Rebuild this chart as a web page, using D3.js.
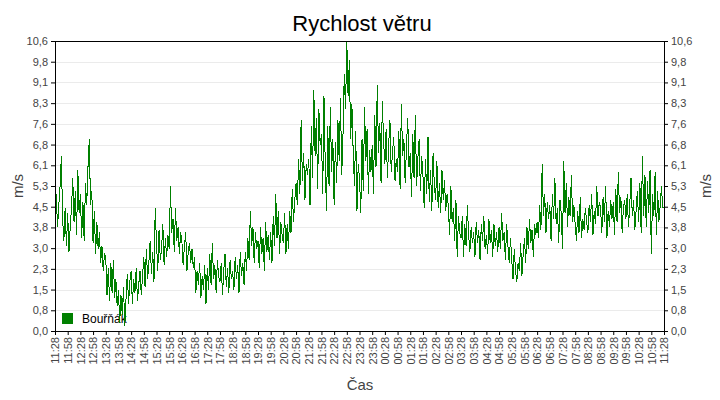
<!DOCTYPE html>
<html>
<head>
<meta charset="utf-8">
<script src="https://cdn.jsdelivr.net/npm/d3@7"></script>
<style>
  html, body { margin: 0; padding: 0; background: #fff; }
  svg { display: block; }
  text { font-family: "Liberation Sans", Arial, sans-serif; }
</style>
</head>
<body>
<svg id="chart" width="720" height="400"></svg>
<script>
// ---- data ----
const title = "Rychlost větru";
const seriesName = "Bouřňák";
const yAxisTitle = "m/s";
const xAxisTitle = "Čas";
const startTime = [11, 28];          // first sample, HH:MM
const sampleMinutes = 3;             // spacing of samples
const windSpeed = [
  4.2,5.0,3.8,4.6,5.3,6.4,4.1,3.3,4.5,3.1,
  4.3,2.9,3.8,4.5,5.6,4.0,5.1,3.5,5.9,4.3,
  5.0,3.4,4.7,3.3,5.4,4.6,6.0,7.0,4.6,5.1,
  3.2,4.4,2.8,4.0,3.0,3.6,2.5,3.1,2.2,2.8,
  2.7,1.3,2.3,1.1,2.5,1.4,2.6,1.2,1.9,0.9,
  1.5,0.3,1.3,0.6,1.6,0.2,1.2,2.1,1.0,1.8,
  2.2,1.0,1.9,1.4,2.3,1.1,1.7,2.2,1.3,2.0,
  2.7,1.6,3.0,1.9,2.5,3.3,2.1,2.9,1.8,4.5,
  3.2,2.2,3.7,2.6,3.0,3.9,2.4,3.4,2.7,3.5,
  3.0,5.3,3.6,4.1,2.9,4.5,3.3,3.8,2.8,3.6,
  3.3,2.4,3.1,3.6,2.2,2.9,3.2,2.5,3.0,2.3,
  2.7,1.4,2.2,1.7,2.5,1.2,2.0,1.5,2.4,1.0,
  2.3,1.5,2.8,1.7,3.2,1.9,2.4,1.4,2.6,2.0,
  1.8,2.5,1.3,2.2,2.8,1.6,2.3,1.4,2.6,1.9,
  2.2,1.5,2.7,1.9,2.4,1.4,2.9,2.0,2.5,1.7,
  2.9,2.2,3.4,2.6,4.4,3.1,3.8,2.5,3.6,3.0,
  3.3,2.3,3.8,2.8,3.4,2.2,4.0,2.9,3.5,2.6,
  3.6,2.5,4.2,3.1,5.0,3.4,4.4,2.8,4.0,3.5,
  3.2,4.3,2.8,3.9,3.0,4.4,3.6,5.2,4.0,4.8,
  5.4,4.6,6.3,5.0,7.7,5.5,6.5,4.8,6.1,5.7,
  6.3,4.6,7.5,5.6,8.8,6.4,7.8,5.2,8.1,6.8,
  7.2,5.0,8.6,6.1,4.4,7.5,5.3,8.2,5.8,7.0,
  4.6,6.9,5.4,7.7,6.2,8.5,5.7,7.2,9.4,8.1,
  10.6,8.6,9.9,7.0,8.3,6.6,5.3,7.3,4.4,6.1,
  5.6,4.3,7.0,5.1,8.2,6.2,7.4,5.0,6.6,5.8,
  6.8,5.0,7.9,6.0,9.0,6.5,7.6,5.4,8.4,6.9,
  6.1,7.4,5.6,6.8,7.7,5.8,6.5,7.1,5.5,6.3,
  5.8,7.3,5.2,8.3,6.4,7.0,5.4,6.7,7.8,6.0,
  6.5,4.9,7.2,5.6,7.9,5.3,6.3,7.0,5.1,6.4,
  5.7,4.5,6.3,5.0,7.1,4.7,5.9,4.4,6.5,5.3,
  4.8,6.2,4.5,5.4,4.3,5.9,4.8,5.5,4.4,5.0,
  4.6,3.5,5.3,4.0,4.5,3.3,4.8,2.7,4.2,3.6,
  3.4,4.2,2.7,3.9,3.1,4.6,3.5,2.9,3.8,3.2,
  3.6,2.7,4.0,3.2,3.7,2.6,3.9,3.3,4.2,3.0,
  3.5,2.8,4.1,3.2,3.7,2.7,3.9,3.1,3.6,2.9,
  3.8,3.0,4.3,3.3,3.6,2.6,3.9,3.1,2.5,3.4,
  2.6,1.9,3.0,2.2,1.8,2.5,2.2,3.2,2.0,2.8,
  3.4,2.5,3.8,3.0,4.1,3.2,3.7,2.7,3.9,3.5,
  4.0,3.4,4.6,3.7,6.1,4.2,5.0,3.6,4.7,4.1,
  4.6,3.3,5.0,4.1,5.6,3.9,4.5,3.2,4.8,4.3,
  3.0,6.2,4.3,5.4,3.8,4.9,4.2,5.7,4.0,4.6,
  3.9,3.3,4.4,3.6,4.9,3.4,4.1,3.7,4.5,4.0,
  3.6,4.6,4.0,5.0,3.5,4.4,3.9,5.3,4.2,4.7,
  4.5,3.6,4.9,4.0,5.3,3.4,4.4,3.8,4.8,4.1,
  4.7,3.5,5.2,4.0,5.8,4.3,4.9,3.6,4.5,4.8,
  4.1,5.0,3.8,4.6,5.6,4.2,4.8,3.7,4.4,5.1,
  4.0,5.4,3.6,6.4,4.2,5.7,3.8,5.5,4.3,5.9,
  2.8,5.0,4.2,5.8,3.5,5.1,4.0,4.6,5.3,4.5,
  4.5
];
const yTickLabels = ["0,0","0,8","1,5","2,3","3,0","3,8","4,5","5,3","6,1","6,8","7,6","8,3","9,1","9,8","10,6"];
const yMax = 10.6;
const xTickLabels = ["11:28","11:58","12:28","12:58","13:28","13:58","14:28","14:58","15:28","15:58",
  "16:28","16:58","17:28","17:58","18:28","18:58","19:28","19:58","20:28","20:58","21:28","21:58",
  "22:28","22:58","23:28","23:58","00:28","00:58","01:28","01:58","02:28","02:58","03:28","03:58",
  "04:28","04:58","05:28","05:58","06:28","06:58","07:28","07:58","08:28","08:58","09:28","09:58",
  "10:28","10:58","11:28"];

// ---- layout ----
const L = 55, R = 664, T = 41, B = 331;
const svg = d3.select("#chart");

const t0 = new Date(2020, 0, 1, startTime[0], startTime[1]);
const t1 = d3.timeMinute.offset(t0, 24 * 60);
const x = d3.scaleTime().domain([t0, t1]).range([L, R]);
const y = d3.scaleLinear().domain([0, yMax]).range([B, T]);

const data = windSpeed.map((v, i) => ({ t: d3.timeMinute.offset(t0, i * sampleMinutes), v }));
const yTickVals = yTickLabels.map((s, i) => i * yMax / (yTickLabels.length - 1));
const xTickVals = xTickLabels.map((s, i) => d3.timeMinute.offset(t0, i * 30));

// gridlines
svg.append("g").selectAll("line").data(yTickVals.slice(1, -1)).join("line")
  .attr("x1", L).attr("x2", R)
  .attr("y1", d => Math.round(y(d)) + 0.5).attr("y2", d => Math.round(y(d)) + 0.5)
  .attr("stroke", "#ebebeb").attr("stroke-width", 1);

// legend (drawn under the line)
svg.append("rect").attr("x", 62).attr("y", 313).attr("width", 11).attr("height", 11).attr("fill", "#008000");
svg.append("text").attr("x", 82).attr("y", 323).attr("font-size", 12).attr("fill", "#000").text(seriesName);

// series line
svg.append("path").datum(data)
  .attr("fill", "none").attr("stroke", "#008000").attr("stroke-width", 1)
  .attr("shape-rendering", "crispEdges")
  .attr("d", d3.line().x(d => x(d.t)).y(d => y(d.v)));

// axes
const leftAxis = d3.axisLeft(y).tickValues(yTickVals).tickFormat((d) => yTickLabels[yTickVals.indexOf(d)]).tickSize(4).tickPadding(3);
const rightAxis = d3.axisRight(y).tickValues(yTickVals).tickFormat((d) => yTickLabels[yTickVals.indexOf(d)]).tickSize(4).tickPadding(3);
const bottomAxis = d3.axisBottom(x).tickValues(xTickVals).tickFormat((d) => xTickLabels[xTickVals.findIndex(v => +v === +d)]).tickSize(4).tickPadding(3);

function styleAxis(g) {
  g.selectAll(".domain").attr("stroke", "#000");
  g.selectAll(".tick line").attr("stroke", "#000");
  g.selectAll(".tick text").attr("fill", "#444").attr("font-size", 11)
    .attr("font-family", "'Liberation Sans', Arial, sans-serif");
}
svg.append("g").attr("transform", `translate(${L},0)`).call(leftAxis).call(styleAxis)
  .call(g => g.select(".domain").attr("d", `M0.5,${T}V${B}`));
svg.append("g").attr("transform", `translate(${R},0)`).call(rightAxis).call(styleAxis)
  .call(g => g.select(".domain").attr("d", `M0.5,${T}V${B}`));
const bx = svg.append("g").attr("transform", `translate(0,${B})`).call(bottomAxis).call(styleAxis);
bx.select(".domain").attr("d", `M${L},0.5H${R + 1}`);
bx.selectAll(".tick text")
  .attr("transform", "rotate(-90)")
  .attr("text-anchor", "end")
  .attr("x", -6).attr("y", 0).attr("dy", "0.35em");

// top frame
svg.append("line").attr("x1", L).attr("x2", R + 1).attr("y1", T + 0.5).attr("y2", T + 0.5).attr("stroke", "#000");

// titles
svg.append("text").attr("x", 362).attr("y", 31).attr("text-anchor", "middle")
  .attr("font-size", 22).attr("fill", "#000").text(title);
svg.append("text").attr("transform", `translate(23,${(T + B) / 2}) rotate(-90)`).attr("text-anchor", "middle")
  .attr("font-size", 15).attr("fill", "#444").text(yAxisTitle);
svg.append("text").attr("transform", `translate(711,${(T + B) / 2}) rotate(-90)`).attr("text-anchor", "middle")
  .attr("font-size", 15).attr("fill", "#444").text(yAxisTitle);
svg.append("text").attr("x", 360).attr("y", 390).attr("text-anchor", "middle")
  .attr("font-size", 15).attr("fill", "#444").text(xAxisTitle);
</script>
</body>
</html>
